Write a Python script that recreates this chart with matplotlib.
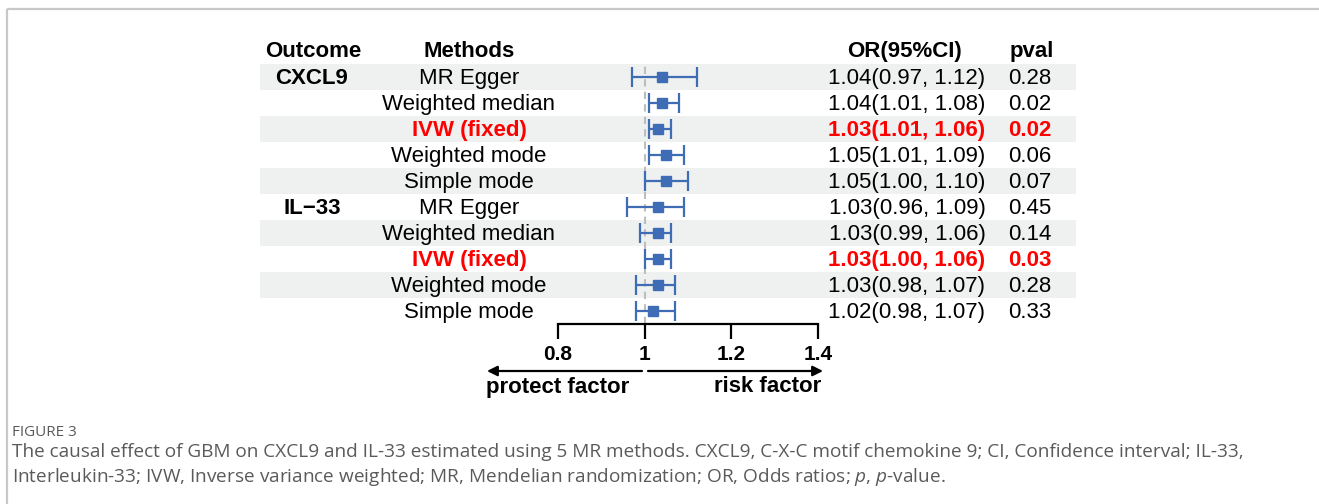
import matplotlib
matplotlib.use("Agg")
import matplotlib.pyplot as plt

# forest plot data
outcomes = ["CXCL9", "", "", "", "", "IL\u221233", "", "", "", ""]
methods = ["MR Egger", "Weighted median", "IVW (fixed)", "Weighted mode", "Simple mode",
           "MR Egger", "Weighted median", "IVW (fixed)", "Weighted mode", "Simple mode"]
or_est = [1.04, 1.04, 1.03, 1.05, 1.05, 1.03, 1.03, 1.03, 1.03, 1.02]
ci_low = [0.97, 1.01, 1.01, 1.01, 1.00, 0.96, 0.99, 1.00, 0.98, 0.98]
ci_high = [1.12, 1.08, 1.06, 1.09, 1.10, 1.09, 1.06, 1.06, 1.07, 1.07]
pval = [0.28, 0.02, 0.02, 0.06, 0.07, 0.45, 0.14, 0.03, 0.28, 0.33]
xticks = [0.8, 1.0, 1.2, 1.4]
xticklabels = ["0.8", "1", "1.2", "1.4"]

W, H = 1319, 504
FONT = "Liberation Sans"
BLUE = "#3e6db5"
RED = "#ff0000"

plt.rcParams["mathtext.fontset"] = "custom"
plt.rcParams["mathtext.rm"] = "Open Sans"
plt.rcParams["mathtext.it"] = "Open Sans:italic"

fig = plt.figure(figsize=(W / 100, H / 100), dpi=100)

# canvas in pixel units for table text, bands and caption
cv = fig.add_axes([0, 0, 1, 1])
cv.set_xlim(0, W)
cv.set_ylim(H, 0)
cv.axis("off")

# thin frame at top/left
cv.plot([6.5, W], [9, 9], color="#c8c8c8", lw=1.6, solid_capstyle="butt")
cv.plot([6.5, 6.5], [9, H], color="#c8c8c8", lw=1.6, solid_capstyle="butt")

row0, rh = 64, 26
n = len(methods)
dy = 1.5  # small nudge: text centre vs band centre

# striped background
for i in range(n):
    if i % 2 == 0:
        cv.add_patch(plt.Rectangle((260, row0 + rh * i), 816, rh,
                                   color="#eff0f0", lw=0, zorder=0))

# header
hy = 50 + dy
for x, s in [(313, "Outcome"), (469, "Methods"), (905, "OR(95%CI)"), (1032, "pval")]:
    cv.text(x, hy, s, ha="center", va="center", fontsize=16, fontweight="bold",
            family=FONT)

for i in range(n):
    y = row0 + rh * (i + 0.5) + dy
    sig = methods[i].startswith("IVW")
    col = RED if sig else "black"
    wt = "bold" if sig else "normal"
    if outcomes[i]:
        cv.text(312, y, outcomes[i], ha="center", va="center", fontsize=16,
                fontweight="bold", family=FONT)
    cv.text(469, y, methods[i], ha="center", va="center", fontsize=16,
            color=col, fontweight=wt, family=FONT)
    cv.text(907, y, "%.2f(%.2f, %.2f)" % (or_est[i], ci_low[i], ci_high[i]),
            ha="center", va="center", fontsize=16, color=col, fontweight=wt, family=FONT)
    cv.text(1030, y, "%.2f" % pval[i], ha="center", va="center", fontsize=16,
            color=col, fontweight=wt, family=FONT)

# forest panel
x0, x1 = 558, 818
ax = fig.add_axes([x0 / W, 1 - (row0 + rh * n) / H, (x1 - x0) / W, rh * n / H])
ax.patch.set_visible(False)
ax.set_xlim(0.8, 1.4)
ax.set_ylim(n, 0)
ys = [i + 0.5 for i in range(n)]
ax.axvline(1.0, color="#bdbdbd", lw=1.5, ls=(0, (3.5, 2.5)), zorder=1)
xerr = [[e - l for e, l in zip(or_est, ci_low)], [h - e for e, h in zip(or_est, ci_high)]]
ax.errorbar(or_est, ys, xerr=xerr, fmt="s", color=BLUE, ms=7.5, elinewidth=1.6,
            capsize=7, capthick=1.6, zorder=3, clip_on=False)
for s in ["top", "left", "right"]:
    ax.spines[s].set_visible(False)
ax.spines["bottom"].set_bounds(0.8, 1.4)
ax.spines["bottom"].set_linewidth(1.6)
ax.set_yticks([])
ax.set_xticks(xticks)
ax.set_xticklabels(xticklabels, fontsize=15, fontweight="bold", family=FONT)
ax.tick_params(axis="x", direction="out", length=11, width=1.6, pad=4)

# direction arrows
ay = 371
cv.annotate("", xy=(487, ay), xytext=(642, ay),
            arrowprops=dict(arrowstyle="-|>", color="black", lw=1.6,
                            mutation_scale=15, shrinkA=0, shrinkB=0))
cv.annotate("", xy=(823, ay), xytext=(648, ay),
            arrowprops=dict(arrowstyle="-|>", color="black", lw=1.6,
                            mutation_scale=15, shrinkA=0, shrinkB=0))
cv.text(558, 387, "protect factor", ha="center", va="center", fontsize=16,
        fontweight="bold", family=FONT)
cv.text(768, 387, "risk factor", ha="center", va="center", fontsize=16,
        fontweight="bold", family=FONT)

# caption
cap = "#5a5a5a"
cv.text(12, 433, "FIGURE 3", ha="left", va="center", fontsize=11, color=cap,
        family="Open Sans")
cv.text(12, 452, "The causal effect of GBM on CXCL9 and IL-33 estimated using 5 MR methods. "
        "CXCL9, C-X-C motif chemokine 9; CI, Confidence interval; IL-33,",
        ha="left", va="center", fontsize=13.7, color=cap, family="Open Sans")
cv.text(12, 477, "Interleukin-33; IVW, Inverse variance weighted; MR, Mendelian randomization; "
        "OR, Odds ratios; $\\mathit{p}$, $\\mathit{p}$-value.",
        ha="left", va="center", fontsize=13.7, color=cap, family="Open Sans")

fig.savefig("out.png", dpi=100)
